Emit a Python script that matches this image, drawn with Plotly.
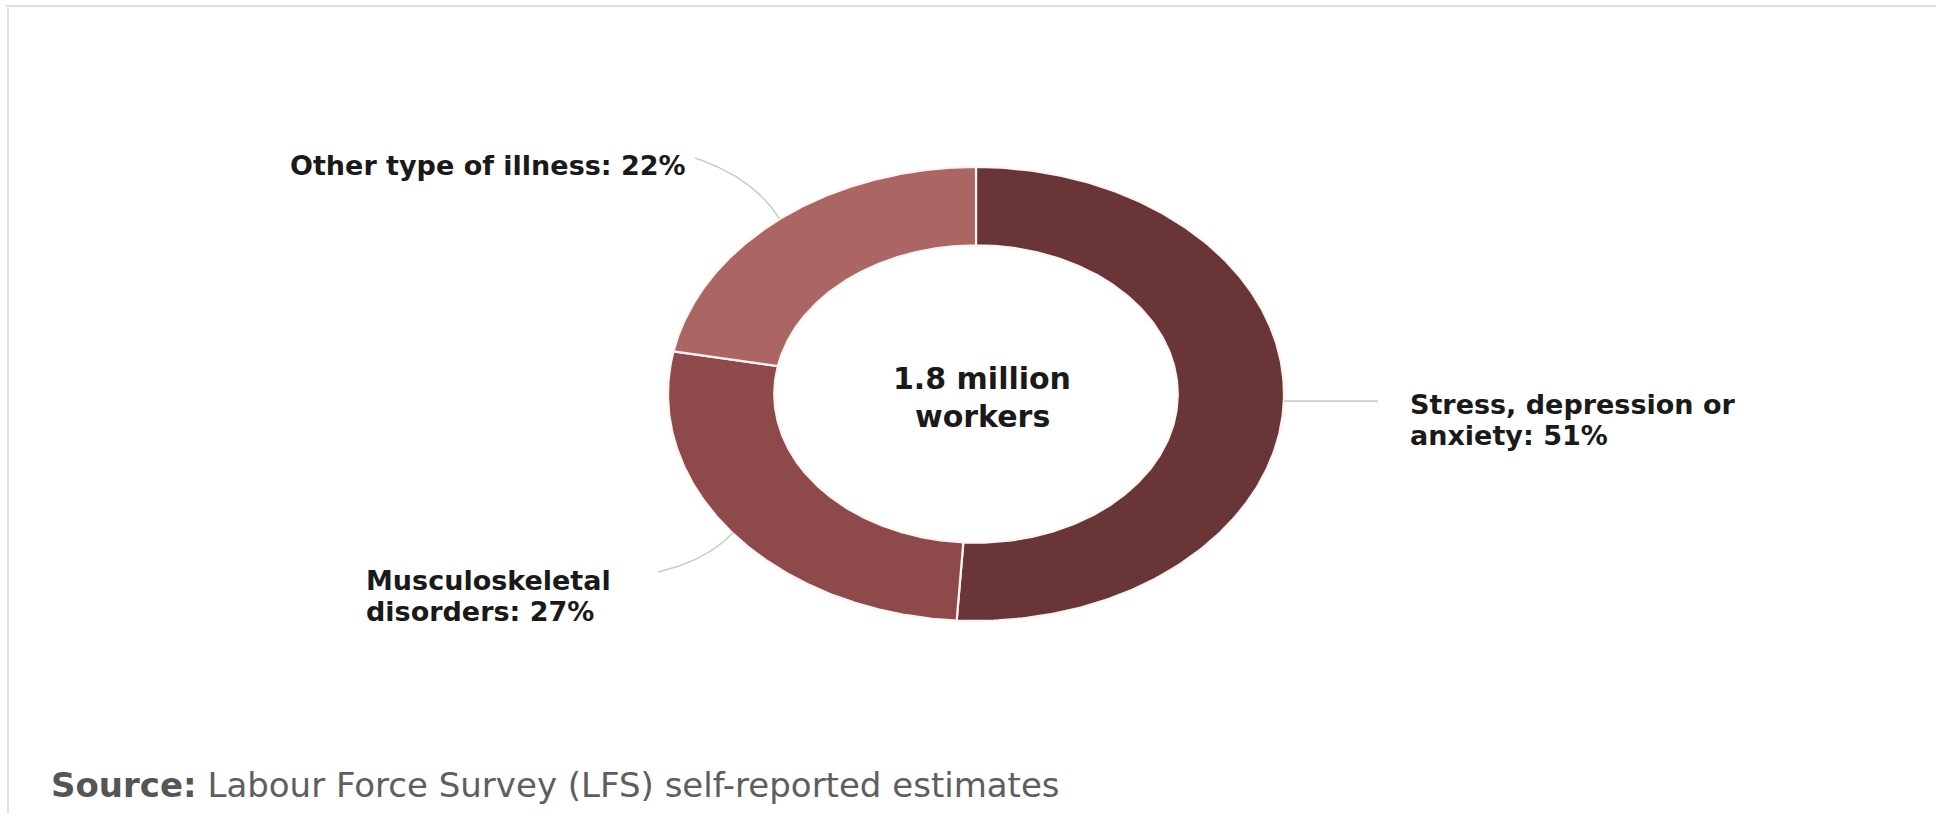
import numpy as np
import plotly.graph_objects as go

# ---------------- data ----------------
categories = ["Stress, depression or anxiety", "Musculoskeletal disorders", "Other type of illness"]
values = [51, 27, 22]
label_lines = [["Stress, depression or", "anxiety: 51%"],
               ["Musculoskeletal", "disorders: 27%"],
               ["Other type of illness: 22%"]]
slice_colors = ["#693537", "#8e4a4a", "#ab6563"]
center_lines = ["1.8 million", "workers"]
source_bold = "Source:"
source_text = "Labour Force Survey (LFS) self-reported estimates"

# ---------------- layout constants (pixel-like axes) ----------------
W, H = 1936, 814
CX, CY = 976, 394
RX, RY = 308, 227
HOLE = 0.655
# label placement: (x, xanchor, first line y, leader end x, leader end y, curve strength)
label_place = [
    (1408, "left", 404, 1378, None, 0),
    (364, "left", 580, 658, 572, 38),
    (688, "right", 165, 695, 158, 48),
]
LINE_GAP = 31
FONT_BOLD = "DejaVu Sans"

fig = go.Figure()
total = float(sum(values))
cum = 0.0
mids = []
for cat, v, col in zip(categories, values, slice_colors):
    a0 = cum / total * 2 * np.pi
    cum += v
    a1 = cum / total * 2 * np.pi
    t = np.linspace(a0, a1, 240)
    xo = CX + RX * np.sin(t)
    yo = CY - RY * np.cos(t)
    tr = t[::-1]
    xi = CX + RX * HOLE * np.sin(tr)
    yi = CY - RY * HOLE * np.cos(tr)
    xs = np.concatenate([xo, xi, xo[:1]])
    ys = np.concatenate([yo, yi, yo[:1]])
    fig.add_trace(go.Scatter(x=xs, y=ys, mode="lines", fill="toself", fillcolor=col,
                             line=dict(color="#fff4f4", width=2.2), name=cat,
                             hoverinfo="name", showlegend=False))
    mids.append((a0 + a1) / 2)

# leader lines (quadratic curves from the slice middle to the label)
for (lx, anchor, ly, ex, ey, k), m in zip(label_place, mids):
    p0 = np.array([CX + RX * np.sin(m), CY - RY * np.cos(m)])
    nrm = np.array([RY * np.sin(m), -RX * np.cos(m)])
    nrm = nrm / np.linalg.norm(nrm)
    p2 = np.array([ex, p0[1] if ey is None else ey])
    p1 = p0 + nrm * k
    s = np.linspace(0, 1, 60)[:, None]
    pts = (1 - s) ** 2 * p0 + 2 * (1 - s) * s * p1 + s ** 2 * p2
    fig.add_trace(go.Scatter(x=pts[:, 0], y=pts[:, 1], mode="lines",
                             line=dict(color="#cccccc", width=1.6),
                             hoverinfo="skip", showlegend=False))

annotations = []
for (lx, anchor, ly, ex, ey, k), lines in zip(label_place, label_lines):
    for j, txt in enumerate(lines):
        annotations.append(dict(x=lx, y=ly + j * LINE_GAP, xref="x", yref="y", text="<b>%s</b>" % txt,
                                showarrow=False, xanchor=anchor, yanchor="middle",
                                font=dict(family=FONT_BOLD, size=27, color="#1a1a1a")))

for j, txt in enumerate(center_lines):
    annotations.append(dict(x=CX + 6, y=378 + j * 38, xref="x", yref="y", text="<b>%s</b>" % txt,
                            showarrow=False, xanchor="center", yanchor="middle",
                            font=dict(family=FONT_BOLD, size=30, color="#1a1a1a")))

annotations.append(dict(x=49, y=785, xref="x", yref="y",
                        text="<b><span style='color:#555555'>%s</span></b> %s" % (source_bold, source_text),
                        showarrow=False, xanchor="left", yanchor="middle",
                        font=dict(family="DejaVu Sans", size=34, color="#5e5e5e")))

shapes = [
    dict(type="line", xref="paper", yref="paper", x0=0.003, x1=1, y0=1 - 6 / H, y1=1 - 6 / H,
         line=dict(color="#dedede", width=2)),
    dict(type="line", xref="paper", yref="paper", x0=8 / W, x1=8 / W, y0=0, y1=1 - 6 / H,
         line=dict(color="#e2e2e2", width=2)),
]

fig.update_layout(
    width=W, height=H,
    margin=dict(l=0, r=0, t=0, b=0),
    paper_bgcolor="white", plot_bgcolor="white",
    xaxis=dict(range=[0, W], visible=False, fixedrange=True),
    yaxis=dict(range=[H, 0], visible=False, fixedrange=True),
    showlegend=False,
    annotations=annotations,
    shapes=shapes,
)

fig.write_html("out.html")
